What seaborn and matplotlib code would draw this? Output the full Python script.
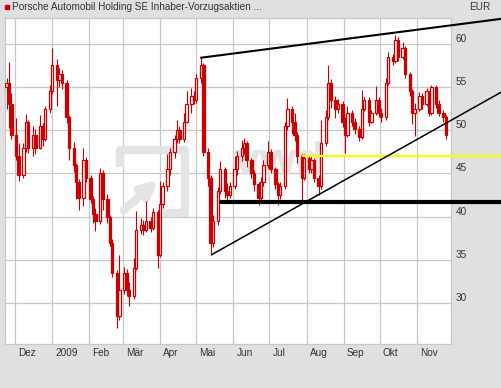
import matplotlib
matplotlib.use("Agg")
import pandas as pd
import matplotlib.pyplot as plt
import matplotlib.transforms as mtransforms
import seaborn as sns

# Kurse (EUR), je eine Kerze pro 2 Handelstage ab 24.11.2008
close = [55.5, 53.0, 49.5, 47.0, 44.8, 48.0, 51.0, 48.0, 49.5, 48.0, 50.5, 49.0,
         52.5, 54.5, 57.5, 55.8, 56.5, 55.5, 51.5, 48.0, 46.0, 44.0, 42.2,
         46.5, 44.5, 42.0, 40.3, 39.5, 45.0, 42.0, 40.0, 37.0, 33.5, 28.5,
         31.5, 33.5, 31.5, 30.8, 34.0, 38.5, 39.0, 38.5, 39.5, 38.7, 40.5,
         35.5, 41.5, 43.5, 45.5, 47.5, 49.0, 50.0, 49.0, 51.0, 53.0, 54.0, 53.5, 56.0,
         57.5, 47.5, 44.5, 37.0, 39.5, 43.0, 45.5, 43.0, 42.5,
         43.5, 45.5, 47.0, 48.0, 48.5, 46.5, 45.0, 43.8, 42.2, 44.0, 46.0, 47.5, 45.5, 43.8, 42.5, 43.5,
         50.5, 52.5, 51.0, 49.5, 47.0, 44.5, 46.8, 45.5, 46.5, 44.5, 43.5,
         48.5, 51.5, 55.5, 53.5, 52.5, 53.0, 51.0, 49.5, 52.0, 51.0, 50.2, 49.2,
         52.5, 53.5, 51.0, 52.0, 53.5, 52.0, 51.5, 55.5, 58.5, 58.0, 60.5, 58.5, 59.5,
         56.5, 54.5, 52.0, 52.5, 54.0, 53.0, 54.5, 52.0, 55.0, 53.0, 52.0, 51.5, 49.5]
high = [56.0, 57.9, 54.3, 51.4, 48.5, 48.5, 51.9, 51.2, 50.5, 50.2, 51.8, 50.8,
        52.8, 55.2, 59.5, 58.2, 57.2, 57.0, 55.8, 51.8, 48.6, 46.2, 44.4,
        47.9, 46.9, 44.8, 42.4, 41.0, 45.6, 45.4, 42.6, 40.2, 37.4, 33.8,
        35.6, 34.2, 33.9, 32.4, 35.2, 40.6, 39.8, 39.6, 41.8, 40.0, 41.0,
        40.8, 44.1, 44.0, 47.2, 48.0, 49.5, 51.2, 50.5, 52.0, 54.5, 54.9, 54.6, 56.5,
        58.6, 57.8, 48.0, 44.8, 40.2, 43.4, 46.4, 45.8, 43.9,
        44.0, 47.0, 47.6, 48.9, 49.1, 48.8, 46.8, 45.4, 44.0, 44.6, 46.5, 48.7, 47.8, 45.8, 44.0, 44.0,
        51.0, 53.7, 52.8, 52.0, 49.8, 47.3, 47.2, 47.0, 47.0, 46.8, 44.8,
        51.2, 52.4, 57.5, 55.9, 54.0, 53.6, 53.4, 51.5, 52.8, 52.4, 51.4, 50.5,
        54.7, 53.9, 53.8, 52.4, 55.1, 53.9, 52.6, 56.0, 59.1, 58.8, 61.0, 60.8, 60.2,
        59.8, 56.8, 54.8, 53.2, 54.4, 54.3, 54.9, 54.6, 55.2, 55.2, 53.5, 52.4, 51.8]
low = [52.5, 50.3, 49.0, 46.5, 44.1, 44.5, 47.5, 47.4, 47.0, 47.2, 47.8, 48.2,
       48.8, 52.0, 54.2, 52.8, 55.0, 54.8, 50.8, 46.6, 45.2, 42.0, 40.8,
       41.2, 44.0, 41.6, 39.3, 38.3, 39.2, 40.8, 39.3, 36.6, 33.0, 27.1,
       28.0, 31.0, 30.8, 29.6, 30.5, 33.8, 38.0, 37.9, 38.2, 38.2, 38.4,
       34.0, 35.3, 41.0, 43.0, 44.8, 46.8, 48.5, 48.5, 48.6, 50.8, 52.0, 53.0, 53.2,
       55.5, 47.0, 43.5, 35.5, 36.5, 39.0, 42.6, 42.2, 41.8,
       42.2, 43.2, 44.8, 46.4, 47.2, 45.8, 44.5, 43.0, 41.4, 41.8, 43.6, 45.6, 45.0, 43.2, 41.4, 42.0,
       43.2, 50.0, 49.6, 48.8, 46.2, 41.6, 44.2, 45.0, 45.0, 44.0, 42.5,
       43.2, 48.2, 51.2, 52.6, 51.4, 52.0, 50.4, 47.4, 49.2, 50.5, 49.6, 48.8,
       49.0, 52.2, 50.5, 50.8, 51.8, 51.5, 51.0, 51.2, 55.2, 57.5, 57.8, 58.0, 58.2,
       56.0, 54.0, 50.7, 49.3, 52.2, 52.5, 52.8, 51.6, 51.8, 52.6, 51.6, 51.0, 49.0]
open_first = 55.0

month_ticks = ["2008-12-01", "2009-01-01", "2009-02-01", "2009-03-01", "2009-04-01", "2009-05-01",
               "2009-06-01", "2009-07-01", "2009-08-01", "2009-09-01", "2009-10-01", "2009-11-01"]
month_labels = ["Dez", "2009", "Feb", "Mär", "Apr", "Mai", "Jun", "Jul", "Aug", "Sep", "Okt", "Nov"]
price_ticks = [30, 35, 40, 45, 50, 55, 60]

# Trendlinien / Marken
upper_dates = ["2009-05-05", "2010-01-10"]
upper_vals = [58.4, 62.9]
lower_dates = ["2009-05-14", "2010-01-10"]
lower_vals = [35.6, 54.4]
support_dates = ["2009-05-22", "2010-01-10"]
support_vals = [41.7, 41.7]
yellow_dates = ["2009-07-29", "2010-01-10"]
yellow_vals = [47.0, 47.0]

sns.set_style("white")
plt.rcParams["font.family"] = ["Liberation Sans", "DejaVu Sans"]

red = "#cc0000"
grid = "#c8c8c8"
txt = "#333333"

fig = plt.figure(figsize=(5.01, 3.88), dpi=100, facecolor="#e0e0e0")
ax = fig.add_axes([5 / 501, 44 / 388, 446 / 501, 326 / 388])
ax.set_facecolor("white")

df = pd.DataFrame({"date": pd.bdate_range("2008-11-24", periods=len(close), freq="2B"),
                   "close": close, "high": high, "low": low})
df["open"] = df["close"].shift(1).fillna(open_first)
up = df["close"] >= df["open"]
d_up = df[up]
d_dn = df[~up]

# Dochte
ax.vlines(df["date"], df["low"], df["high"], color=red, lw=0.8, zorder=2)
# Kerzenkoerper
ax.bar(d_up["date"], d_up["close"] - d_up["open"], bottom=d_up["open"], width=2.0,
       color="white", edgecolor=red, linewidth=0.9, zorder=3)
ax.bar(d_dn["date"], d_dn["close"] - d_dn["open"], bottom=d_dn["open"], width=2.0,
       color=red, edgecolor=red, linewidth=0.9, zorder=3)

# Linien
sns.lineplot(x=pd.to_datetime(yellow_dates), y=yellow_vals, ax=ax, color="#ffff00", lw=1.6, clip_on=False, zorder=4)
sns.lineplot(x=pd.to_datetime(support_dates), y=support_vals, ax=ax, color="black", lw=3.0, clip_on=False, zorder=5)
sns.lineplot(x=pd.to_datetime(upper_dates), y=upper_vals, ax=ax, color="black", lw=1.5, clip_on=False, zorder=5)
sns.lineplot(x=pd.to_datetime(lower_dates), y=lower_vals, ax=ax, color="black", lw=1.1, clip_on=False, zorder=5)

# Wasserzeichen
wm = "#e4e4e4"
ax.plot([0.258, 0.258, 0.404, 0.404, 0.354], [0.543, 0.595, 0.595, 0.402, 0.402],
        transform=ax.transAxes, color=wm, lw=6, zorder=1, solid_capstyle="butt")
ax.annotate("", xy=(0.348, 0.51), xytext=(0.262, 0.405), xycoords="axes fraction",
            arrowprops=dict(arrowstyle="-|>", lw=6, color=wm, mutation_scale=22), zorder=1)
ax.text(0.617, 0.555, "vwd", transform=ax.transAxes, fontsize=34, fontweight="bold",
        color=wm, ha="center", va="center", zorder=1)

ax.set_xlim(pd.Timestamp("2008-11-22 16:00"), pd.Timestamp("2009-11-29 08:00"))
ax.set_ylim(25.25, 63.0)
ax.set_xticks(pd.to_datetime(month_ticks))
ax.set_xticklabels(month_labels)
ax.set_yticks(price_ticks)
ax.set_yticklabels([str(v) for v in price_ticks])
ax.yaxis.tick_right()
ax.tick_params(axis="both", length=0, labelsize=7.2, labelcolor=txt)
ax.tick_params(axis="x", pad=2.9)
ax.tick_params(axis="y", pad=3.5)
ax.set_xlabel("")
ax.set_ylabel("")
ax.grid(True, color=grid, lw=0.9)
ax.set_axisbelow(True)
for s in ax.spines.values():
    s.set_color(grid)
    s.set_linewidth(0.9)

shift_x = mtransforms.ScaledTranslation(0.03, 0, fig.dpi_scale_trans)
for lab in ax.get_xticklabels():
    lab.set_horizontalalignment("left")
    lab.set_transform(lab.get_transform() + shift_x)
for lab in ax.get_yticklabels():
    lab.set_verticalalignment("bottom")
    lab.set_horizontalalignment("left")

# Titel
fig.patches.append(plt.Rectangle((5 / 501, 1 - 9 / 388), 4 / 501, 4 / 388,
                                 transform=fig.transFigure, color=red))
fig.text(12 / 501, 1 - 7 / 388, "Porsche Automobil Holding SE Inhaber-Vorzugsaktien ...",
         va="center", ha="left", fontsize=7.2, color=txt)
fig.text(490 / 501, 1 - 7 / 388, "EUR", va="center", ha="right", fontsize=7.2, color=txt)

fig.savefig("out.png", dpi=100, facecolor=fig.get_facecolor())
